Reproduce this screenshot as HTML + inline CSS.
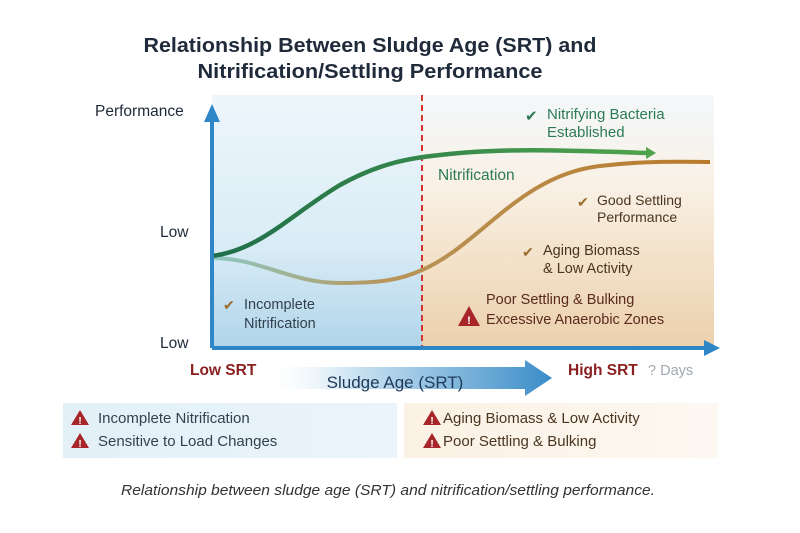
<!DOCTYPE html>
<html><head><meta charset="utf-8"><style>
html,body{margin:0;padding:0;background:#fff}
svg{display:block;font-family:"Liberation Sans",sans-serif}
</style></head><body>
<svg width="800" height="533" viewBox="0 0 800 533" xmlns="http://www.w3.org/2000/svg">
<defs>
<linearGradient id="lb" x1="0" y1="0" x2="0" y2="1">
<stop offset="0" stop-color="#eef6fb"/><stop offset="0.6" stop-color="#d9ecf6"/><stop offset="1" stop-color="#b0d4ea"/></linearGradient>
<linearGradient id="rb" x1="0" y1="0" x2="0" y2="1">
<stop offset="0" stop-color="#f3f8fb"/><stop offset="0.35" stop-color="#f9f1e6"/><stop offset="0.7" stop-color="#f2dfc5"/><stop offset="1" stop-color="#ebd0ac"/></linearGradient>
<linearGradient id="ar" x1="0" y1="0" x2="1" y2="0">
<stop offset="0" stop-color="#ffffff" stop-opacity="0"/><stop offset="0.3" stop-color="#cfe5f3"/><stop offset="1" stop-color="#3a8cc8"/></linearGradient>
<linearGradient id="gc" x1="0" y1="0" x2="1" y2="0">
<stop offset="0" stop-color="#1f6e4a"/><stop offset="1" stop-color="#4fa34c"/></linearGradient>
<linearGradient id="oc" x1="0" y1="0" x2="1" y2="0">
<stop offset="0" stop-color="#8ec9c4"/><stop offset="0.35" stop-color="#b8955a"/><stop offset="1" stop-color="#b97a2a"/></linearGradient>
<linearGradient id="bl" x1="0" y1="0" x2="1" y2="0">
<stop offset="0" stop-color="#e3f0f8"/><stop offset="1" stop-color="#eaf4fa"/></linearGradient>
<linearGradient id="br" x1="0" y1="0" x2="1" y2="0">
<stop offset="0" stop-color="#fbf1e4"/><stop offset="1" stop-color="#fdf8f2"/></linearGradient>
</defs>
<rect width="800" height="533" fill="#fff"/>
<text x="370" y="52" text-anchor="middle" font-size="20" font-weight="bold" fill="#1f2a3a" textLength="453" lengthAdjust="spacingAndGlyphs">Relationship Between Sludge Age (SRT) and</text>
<text x="370" y="78" text-anchor="middle" font-size="20" font-weight="bold" fill="#1f2a3a" textLength="345" lengthAdjust="spacingAndGlyphs">Nitrification/Settling Performance</text>
<rect x="212" y="95" width="210" height="253" fill="url(#lb)"/>
<rect x="422" y="95" width="292" height="253" fill="url(#rb)"/>
<line x1="422" y1="95" x2="422" y2="348" stroke="#d0342c" stroke-width="2" stroke-dasharray="6,4"/>
<path d="M212,258 C260,258 290,283 340,283 C380,283 400,280 422,270 C480,245 520,175 600,166 C650,160 690,162 710,162" fill="none" stroke="url(#oc)" stroke-width="4"/>
<path d="M212,256 C260,250 290,215 340,185 C380,163 410,158 440,155 C500,148 560,150 648,153" fill="none" stroke="url(#gc)" stroke-width="4.5"/>
<polygon points="646,147 656,153 646,159" fill="#4fa34c"/>
<line x1="212" y1="348" x2="708" y2="348" stroke="#2f86c6" stroke-width="4"/>
<polygon points="704,340 720,348 704,356" fill="#2f86c6"/>
<line x1="212" y1="348" x2="212" y2="118" stroke="#2f86c6" stroke-width="4"/>
<polygon points="204,122 212,104 220,122" fill="#2f86c6"/>
<text x="95" y="116" font-size="15.5" fill="#1f2a3a">Performance</text>
<text x="160" y="237" font-size="15.5" fill="#1f2a3a">Low</text>
<text x="160" y="348" font-size="15.5" fill="#1f2a3a">Low</text>
<text x="525" y="121" font-size="15" fill="#2c7a56">✔</text>
<text x="547" y="119" font-size="15" fill="#2c7a56">Nitrifying Bacteria</text>
<text x="547" y="137" font-size="15" fill="#2c7a56">Established</text>
<text x="438" y="180" font-size="15.5" fill="#2c7a56">Nitrification</text>
<text x="577" y="207" font-size="14" fill="#9a6b2a">✔</text>
<text x="597" y="205" font-size="14" fill="#4a3620">Good Settling</text>
<text x="597" y="222" font-size="14" fill="#4a3620">Performance</text>
<text x="522" y="257" font-size="14" fill="#9a6b2a">✔</text>
<text x="543" y="255" font-size="14.5" fill="#4a3620">Aging Biomass</text>
<text x="543" y="273" font-size="14.5" fill="#4a3620">&amp; Low Activity</text>
<text x="223" y="310" font-size="14" fill="#9a6b2a">✔</text>
<text x="244" y="309" font-size="14.5" fill="#33404f">Incomplete</text>
<text x="244" y="328" font-size="14.5" fill="#33404f">Nitrification</text>
<polygon points="469,306 458,326 480,326" fill="#a8262a"/>
<text x="469" y="324" text-anchor="middle" font-size="11" font-weight="bold" fill="#fff">!</text>
<text x="486" y="304" font-size="14.5" fill="#5a2a1e">Poor Settling &amp; Bulking</text>
<text x="486" y="324" font-size="14.5" fill="#5a2a1e">Excessive Anaerobic Zones</text>
<polygon points="262,367 525,367 525,360 552,378 525,396 525,389 262,389" fill="url(#ar)"/>
<text x="190" y="375" font-size="15.5" font-weight="bold" fill="#8a2020">Low SRT</text>
<text x="395" y="388" text-anchor="middle" font-size="17" fill="#1f3a5a">Sludge Age (SRT)</text>
<text x="568" y="375" font-size="15.5" font-weight="bold" fill="#8a2020">High SRT</text>
<text x="648" y="375" font-size="14.5" fill="#a0a8b0">? Days</text>
<rect x="63" y="403" width="334" height="55" fill="url(#bl)"/>
<rect x="404" y="403" width="314" height="55" fill="url(#br)"/>
<g font-size="15" fill="#33404f">
<polygon points="80,410 71,425 89,425" fill="#a8262a"/><text x="80" y="424" text-anchor="middle" font-size="10" font-weight="bold" fill="#fff">!</text>
<text x="98" y="423">Incomplete Nitrification</text>
<polygon points="80,433 71,448 89,448" fill="#a8262a"/><text x="80" y="447" text-anchor="middle" font-size="10" font-weight="bold" fill="#fff">!</text>
<text x="98" y="446">Sensitive to Load Changes</text>
<polygon points="432,410 423,425 441,425" fill="#a8262a"/><text x="432" y="424" text-anchor="middle" font-size="10" font-weight="bold" fill="#fff">!</text>
<text x="443" y="423" fill="#4a3620">Aging Biomass &amp; Low Activity</text>
<polygon points="432,433 423,448 441,448" fill="#a8262a"/><text x="432" y="447" text-anchor="middle" font-size="10" font-weight="bold" fill="#fff">!</text>
<text x="443" y="446" fill="#4a3620">Poor Settling &amp; Bulking</text>
</g>
<text x="388" y="495" text-anchor="middle" font-size="14.5" font-style="italic" fill="#333" textLength="534" lengthAdjust="spacingAndGlyphs">Relationship between sludge age (SRT) and nitrification/settling performance.</text>
</svg>
</body></html>
